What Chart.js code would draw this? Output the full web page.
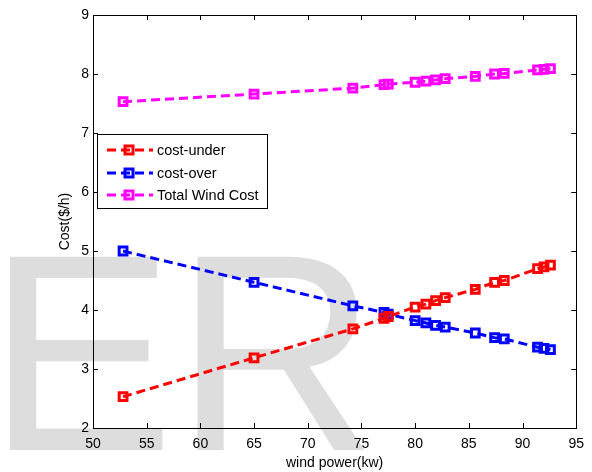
<!DOCTYPE html>
<html>
<head>
<meta charset="utf-8">
<title>Wind cost</title>
<script src="https://cdn.jsdelivr.net/npm/chart.js@4.4.1/dist/chart.umd.min.js"></script>
<style>
  html, body { margin: 0; padding: 0; background: #fff; overflow: hidden; }
  #wrap { position: relative; width: 592px; height: 472px; }
</style>
</head>
<body>
<div id="wrap"><canvas id="cost-chart" width="592" height="472"></canvas></div>
<script>
// values
var windPower = [52.8, 65.0, 74.2, 77.1, 77.5, 80.0, 81.0, 81.9, 82.8, 85.6, 87.4, 88.3, 91.4, 92.0, 92.6];
var costUnder = [2.53, 3.19, 3.68, 3.86, 3.89, 4.05, 4.10, 4.16, 4.21, 4.35, 4.47, 4.50, 4.70, 4.73, 4.76];
var costOver = [5.00, 4.47, 4.07, 3.96, 3.93, 3.82, 3.78, 3.74, 3.71, 3.61, 3.53, 3.51, 3.37, 3.35, 3.33];
var totalCost = [7.53, 7.66, 7.76, 7.82, 7.83, 7.86, 7.88, 7.90, 7.92, 7.96, 8.00, 8.01, 8.07, 8.08, 8.09];

var seriesNames = ["cost-under", "cost-over", "Total Wind Cost"];
var seriesColors = ["#ff0000", "#0000ff", "#ff00ff"];

var xTickMin = 50, xTickMax = 95, xTickStep = 5;
var yTickMin = 2, yTickMax = 9, yTickStep = 1;

(function () {
  "use strict";

  var FONT = '"Liberation Sans", Arial, sans-serif';
  var DASH = [9, 5];

  function points(ys) {
    return windPower.map(function (x, i) {
      return { x: x, y: ys[i] };
    });
  }

  function makeSet(idx, ys) {
    return {
      label: seriesNames[idx],
      data: points(ys),
      borderColor: seriesColors[idx],
      backgroundColor: "transparent",
      borderWidth: 3,
      borderDash: DASH,
      tension: 0,
      pointStyle: "rect",
      pointRadius: 5.5,
      pointBorderWidth: 3,
      pointBorderColor: seriesColors[idx],
      pointBackgroundColor: "transparent",
    };
  }

  // big grey "ER" stamp behind everything
  var watermark = {
    id: "watermark",
    beforeDraw: function (chart) {
      var ctx = chart.ctx;
      ctx.save();
      ctx.fillStyle = "#dddddd";
      ctx.font = "281px " + FONT;
      ctx.textBaseline = "alphabetic";
      ctx.textAlign = "left";
      ctx.fillText("ER", -13, 450);
      ctx.restore();
    },
  };

  // matlab style box with inward ticks on all four sides
  var axesBox = {
    id: "axesBox",
    afterDatasetsDraw: function (chart) {
      var ctx = chart.ctx;
      var a = chart.chartArea;
      var xs = chart.scales.x;
      var ys = chart.scales.y;
      var len = 5;
      ctx.save();
      ctx.strokeStyle = "#000";
      ctx.lineWidth = 1;
      ctx.beginPath();
      xs.ticks.forEach(function (t) {
        var px = Math.round(xs.getPixelForValue(t.value)) + 0.5;
        ctx.moveTo(px, a.bottom);
        ctx.lineTo(px, a.bottom - len);
        ctx.moveTo(px, a.top);
        ctx.lineTo(px, a.top + len);
      });
      ys.ticks.forEach(function (t) {
        var py = Math.round(ys.getPixelForValue(t.value)) + 0.5;
        ctx.moveTo(a.left, py);
        ctx.lineTo(a.left + len, py);
        ctx.moveTo(a.right, py);
        ctx.lineTo(a.right - len, py);
      });
      ctx.stroke();
      ctx.strokeRect(Math.round(a.left) + 0.5, Math.round(a.top) + 0.5, Math.round(a.right - a.left), Math.round(a.bottom - a.top));
      ctx.restore();
    },
  };

  // legend box inside the axes, upper left
  var boxLegend = {
    id: "boxLegend",
    afterDraw: function (chart) {
      var ctx = chart.ctx;
      var bx = 97, by = 134, bw = 170, bh = 74;
      var rowY = [150, 173, 195];
      ctx.save();
      ctx.fillStyle = "#fff";
      ctx.fillRect(bx, by, bw, bh);
      ctx.strokeStyle = "#000";
      ctx.lineWidth = 1;
      ctx.strokeRect(bx + 0.5, by + 0.5, bw, bh);
      chart.data.datasets.forEach(function (ds, i) {
        var y = rowY[i];
        ctx.strokeStyle = ds.borderColor;
        ctx.lineWidth = 3;
        ctx.setLineDash(DASH);
        ctx.beginPath();
        ctx.moveTo(107, y);
        ctx.lineTo(153, y);
        ctx.stroke();
        ctx.setLineDash([]);
        ctx.lineWidth = 3;
        ctx.strokeRect(125, y - 4, 8, 8);
        ctx.fillStyle = "#000";
        ctx.font = "14.5px " + FONT;
        ctx.textBaseline = "middle";
        ctx.textAlign = "left";
        ctx.fillText(ds.label, 157, y + 1);
      });
      ctx.restore();
    },
  };

  var tickFont = { family: FONT, size: 14 };

  new Chart(document.getElementById("cost-chart").getContext("2d"), {
    type: "line",
    data: {
      datasets: [makeSet(0, costUnder), makeSet(1, costOver), makeSet(2, totalCost)],
    },
    options: {
      responsive: false,
      animation: false,
      layout: { padding: { top: 15, right: 12, left: 0, bottom: 0 } },
      scales: {
        x: {
          type: "linear",
          min: xTickMin,
          max: xTickMax,
          ticks: { stepSize: xTickStep, color: "#000", font: tickFont, padding: 8, maxRotation: 0 },
          grid: { display: false, drawTicks: false },
          border: { display: false },
          title: { display: true, text: "wind power(kw)", color: "#000", font: tickFont, padding: { top: 0, bottom: 0 } },
          afterFit: function (s) {
            s.height = 44;
          },
        },
        y: {
          min: yTickMin,
          max: yTickMax,
          ticks: { stepSize: yTickStep, color: "#000", font: tickFont, padding: 4 },
          grid: { display: false, drawTicks: false },
          border: { display: false },
          title: { display: true, text: "Cost($/h)", color: "#000", font: tickFont, padding: { top: 57, bottom: 0 } },
          afterFit: function (s) {
            s.width = 93;
          },
        },
      },
      plugins: {
        legend: { display: false },
        tooltip: { enabled: false },
      },
    },
    plugins: [watermark, axesBox, boxLegend],
  });
})();
</script>
</body>
</html>
